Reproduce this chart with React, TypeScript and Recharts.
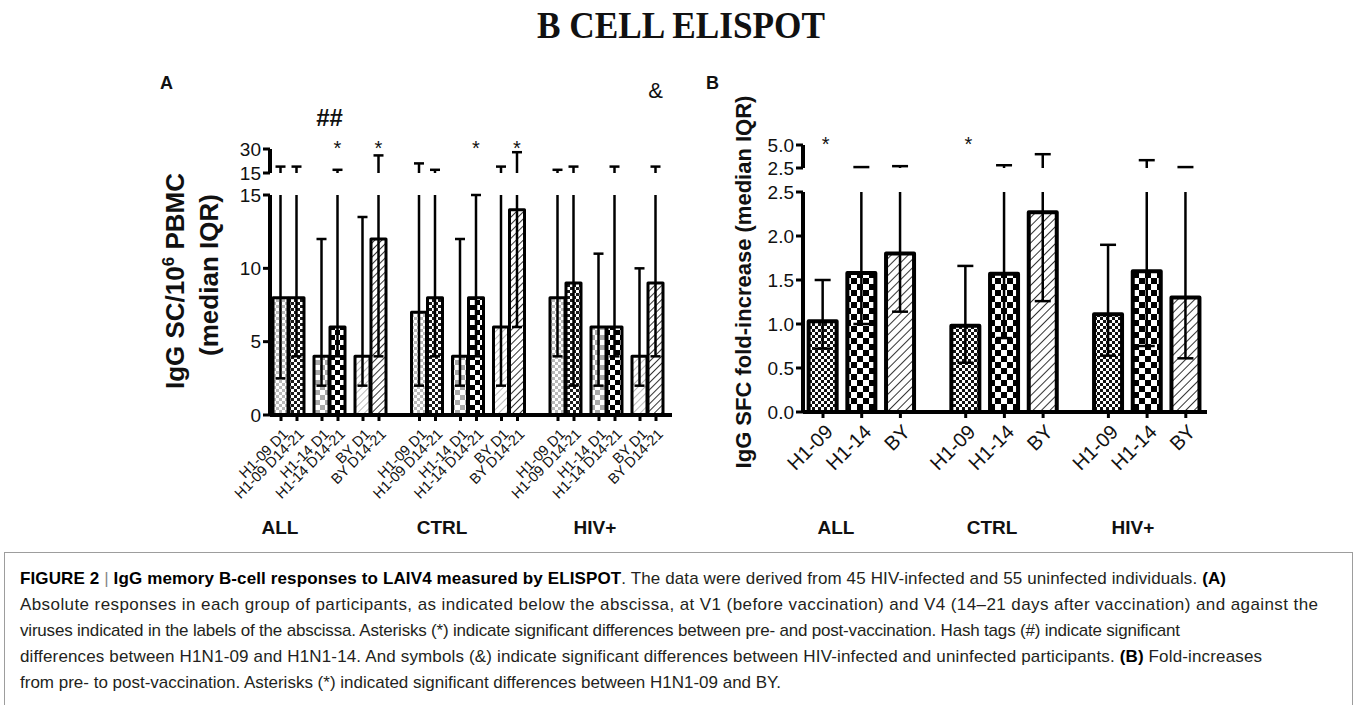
import React from 'react';
import { BarChart, Bar, XAxis, YAxis, Cell } from 'recharts';

const groups = ['ALL', 'CTRL', 'HIV+'];
const viruses = ['H1-09', 'H1-14', 'BY'];
const visits = ['D1', 'D14-21'];

// Panel A: IgG SC / 10^6 PBMC, ordered group > virus > visit
const absMedian = [8, 8, 4, 6, 4, 12, 7, 8, 4, 8, 6, 14, 8, 9, 6, 6, 4, 9];
const absQ1 = [2.5, 4, 2, 4, 2, 4, 2, 4, 2, 4, 2, 6, 4, 2, 2, 4, 2, 4];
const absQ3 = [19, 19, 12, 17, 13.5, 26, 21, 17, 12, 15, 19, 28, 17, 19, 11, 19, 10, 19];
const absMarks = ['', '', '', '*', '', '*', '', '', '', '*', '', '*', '', '', '', '', '', '&'];
const absPairMarks = ['', '##', '', '', '', '', '', '', '']; // group > virus
const absTicks = [0, 5, 10, 15];
const absTopTicks = [15, 30];

// Panel B: fold increase, ordered group > virus
const foldMedian = [1.03, 1.58, 1.8, 0.98, 1.57, 2.27, 1.11, 1.6, 1.3];
const foldQ1 = [0.72, 1.0, 1.14, 0.56, 0.84, 1.26, 0.64, 0.75, 0.61];
const foldQ3 = [1.5, 2.6, 2.7, 1.66, 2.8, 4.0, 1.9, 3.35, 2.6];
const foldMarks = ['*', '', '', '*', '', '', '', '', ''];
const foldTicks = [0, 0.5, 1, 1.5, 2, 2.5];
const foldTopTicks = [2.5, 5];

const SANS = '"Liberation Sans", Arial, Helvetica, sans-serif';
const SERIF = '"Liberation Serif", "Times New Roman", serif';

// layout (px)
const LA = { left: 270, width: 402, lowTop: 195, lowH: 220, upTop: 149, upH: 24, first: 11, bar: 16, pair: 41, group: 138.5, barW: 15, cap: 5 };
const LB = { left: 803, width: 404, lowTop: 192, lowH: 220, upTop: 145, upH: 23, first: 20, pair: 38.7, group: 142.7, barW: 28, cap: 8 };
const CHART_TOP = 70;

const patA = [
  ['aFineGray', 'aFineBlack'],
  ['aBigGray', 'aBigBlack'],
  ['aHatchGray', 'aHatchBlack'],
];
const patB = ['bFine', 'bBig', 'bHatch'];

const absBreak = absTicks[absTicks.length - 1];
const absTop = absTopTicks[absTopTicks.length - 1];
const rowsA = absMedian.map((m, i) => {
  const g = Math.floor(i / 6);
  const v = Math.floor((i % 6) / 2);
  const d = i % 2;
  const q1 = absQ1[i];
  const q3 = absQ3[i];
  const pairMark = d === 1 ? absPairMarks[g * 3 + v] : '';
  return {
    pos: LA.first + g * LA.group + v * LA.pair + d * LA.bar,
    label: `${viruses[v]} ${visits[d]}`,
    pattern: patA[v][d],
    median: m,
    low: [q1, Math.min(q3, absBreak)],
    lowCap: q3 <= absBreak,
    high: q3 > absBreak ? [absBreak, q3] : null,
    mark: absMarks[i],
    pairMark,
    anchor: absMarks[i] || pairMark ? absTop : null,
  };
});

const foldBreak = foldTicks[foldTicks.length - 1];
const foldTop = foldTopTicks[foldTopTicks.length - 1];
const rowsB = foldMedian.map((m, i) => {
  const g = Math.floor(i / 3);
  const v = i % 3;
  const q1 = foldQ1[i];
  const q3 = foldQ3[i];
  return {
    pos: LB.first + g * LB.group + v * LB.pair,
    label: viruses[v],
    pattern: patB[v],
    median: m,
    low: [q1, Math.min(q3, foldBreak)],
    lowCap: q3 <= foldBreak,
    high: q3 > foldBreak ? [foldBreak, q3] : null,
    mark: foldMarks[i],
    pairMark: '',
    anchor: foldMarks[i] ? foldTop : null,
  };
});

const axisLine = { stroke: '#000', strokeWidth: 4 };
const tickLine = { stroke: '#000', strokeWidth: 3 };

const whisker = (cap: number, key: 'low' | 'high') => (p: any) => {
  const { x, y, width, height, payload } = p;
  if (!payload || payload[key] == null || x == null || y == null) return <g />;
  const cx = x + width / 2;
  const top = Math.min(y, y + height);
  const bottom = Math.max(y, y + height);
  const showTop = key === 'high' || payload.lowCap;
  const showBottom = key === 'low';
  return (
    <g stroke="#000" strokeWidth={2.5}>
      <line x1={cx} x2={cx} y1={top} y2={bottom} />
      {showTop && <line x1={cx - cap} x2={cx + cap} y1={top} y2={top} />}
      {showBottom && <line x1={cx - cap} x2={cx + cap} y1={bottom} y2={bottom} />}
    </g>
  );
};

const markStyle: Record<string, { size: number; weight: number; rise: number }> = {
  '*': { size: 20, weight: 400, rise: -5.5 },
  '##': { size: 24, weight: 700, rise: 23 },
  '&': { size: 22, weight: 400, rise: 51 },
};

const marks = (halfStep: number, dx: number) => (p: any) => {
  const { x, y, width, height, payload } = p;
  if (!payload || payload.anchor == null || x == null) return <g />;
  const cx = x + width / 2;
  const top = Math.min(y, y + height);
  const out: React.ReactNode[] = [];
  [payload.mark, payload.pairMark].forEach((m: string, k: number) => {
    if (!m) return;
    const s = markStyle[m];
    out.push(
      <text key={k} x={cx + dx - (k === 1 ? halfStep : 0)} y={top - s.rise} textAnchor="middle"
        fontFamily={SANS} fontSize={s.size} fontWeight={s.weight} fill="#111">{m}</text>
    );
  });
  return <g>{out}</g>;
};

const angledTick = (labels: Map<number, string>, size: number, dx: number, dy: number) => (p: any) => {
  const { x, y, payload } = p;
  const ax = x + dx;
  const ay = y + dy;
  return (
    <text x={ax} y={ay} transform={`rotate(-45, ${ax}, ${ay})`} textAnchor="end"
      fontFamily={SANS} fontSize={size} fill="#111">{labels.get(payload.value)}</text>
  );
};

const labelsA = new Map(rowsA.map((r) => [r.pos, r.label]));
const labelsB = new Map(rowsB.map((r) => [r.pos, r.label]));

function Panel({ L, rows, lowTicks, topTicks, labels, tickSize, tickDx, tickDy, fmt, strokeW, markDx, xAxisH }: any) {
  const yw = 60;
  const w = L.width + yw + 10;
  const ticks = rows.map((r: any) => r.pos);
  const dom = [0, L.width];
  const lowDom = [lowTicks[0], lowTicks[lowTicks.length - 1]];
  const upDom = [topTicks[0], topTicks[topTicks.length - 1]];
  const yTick = { fill: '#111', fontSize: 19, fontFamily: SANS };
  const upMargin = L.upTop - CHART_TOP;
  return (
    <>
      <div style={{ position: 'absolute', left: L.left - yw, top: CHART_TOP }}>
        <BarChart width={w} height={upMargin + L.upH + 14} data={rows} margin={{ top: upMargin, right: 10, left: 0, bottom: 14 }}>
          <XAxis xAxisId="w" type="number" dataKey="pos" domain={dom} ticks={ticks} hide />
          <XAxis xAxisId="s" type="number" dataKey="pos" domain={dom} ticks={ticks} hide />
          <YAxis type="number" domain={upDom} ticks={topTicks} interval={0} width={yw}
            axisLine={axisLine} tickLine={tickLine} tickSize={7} tickMargin={2} tick={yTick} tickFormatter={fmt} />
          <Bar xAxisId="w" dataKey="high" barSize={L.barW} shape={whisker(L.cap, 'high')} isAnimationActive={false} />
          <Bar xAxisId="s" dataKey="anchor" barSize={L.barW} shape={marks(L.bar ? L.bar / 2 : 0, markDx)} isAnimationActive={false} />
        </BarChart>
      </div>
      <div style={{ position: 'absolute', left: L.left - yw, top: L.lowTop - 10 }}>
        <BarChart width={w} height={10 + L.lowH + xAxisH} data={rows} margin={{ top: 10, right: 10, left: 0, bottom: 0 }}>
          <XAxis xAxisId="m" type="number" dataKey="pos" domain={dom} ticks={ticks} interval={0}
            height={xAxisH} axisLine={axisLine} tickLine={tickLine} tickSize={6}
            tick={angledTick(labels, tickSize, tickDx, tickDy)} />
          <XAxis xAxisId="w" type="number" dataKey="pos" domain={dom} ticks={ticks} hide />
          <YAxis type="number" domain={lowDom} ticks={lowTicks} interval={0} width={yw}
            axisLine={axisLine} tickLine={tickLine} tickSize={7} tickMargin={2} tick={yTick} tickFormatter={fmt} />
          <Bar xAxisId="m" dataKey="median" barSize={L.barW} stroke="#000" strokeWidth={strokeW} strokeLinejoin="round" isAnimationActive={false}>
            {rows.map((r: any) => <Cell key={r.pos} fill={`url(#${r.pattern})`} />)}
          </Bar>
          <Bar xAxisId="w" dataKey="low" barSize={L.barW} shape={whisker(L.cap, 'low')} isAnimationActive={false} />
        </BarChart>
      </div>
    </>
  );
}

function Patterns() {
  const check = (id: string, s: number, c: string) => (
    <pattern id={id} width={2 * s} height={2 * s} patternUnits="userSpaceOnUse">
      <rect width={2 * s} height={2 * s} fill="#fff" />
      <rect width={s} height={s} fill={c} />
      <rect x={s} y={s} width={s} height={s} fill={c} />
    </pattern>
  );
  const hatch = (id: string, gap: number, c: string, w: number) => (
    <pattern id={id} width={gap} height={gap} patternUnits="userSpaceOnUse" patternTransform="rotate(45)">
      <rect width={gap} height={gap} fill="#fff" />
      <line x1={0} y1={0} x2={0} y2={gap} stroke={c} strokeWidth={w} />
    </pattern>
  );
  return (
    <svg width={0} height={0} style={{ position: 'absolute', left: 0, top: 0 }}>
      <defs>
        {check('aFineGray', 3, '#b9b9b9')}
        {check('aFineBlack', 3, '#1a1a1a')}
        {check('aBigGray', 5, '#a9a9a9')}
        {check('aBigBlack', 5, '#000')}
        {hatch('aHatchGray', 5, '#9a9a9a', 1.4)}
        {hatch('aHatchBlack', 5, '#000', 1.6)}
        {check('bFine', 3, '#111')}
        {check('bBig', 6, '#000')}
        {hatch('bHatch', 6, '#000', 1.6)}
      </defs>
    </svg>
  );
}

const caption: [string, boolean][][] = [
  [['FIGURE 2', true], [' | ', false], ['IgG memory B-cell responses to LAIV4 measured by ELISPOT', true],
    ['. The data were derived from 45 HIV-infected and 55 uninfected individuals. ', false], ['(A)', true]],
  [['Absolute responses in each group of participants, as indicated below the abscissa, at V1 (before vaccination) and V4 (14\u201321 days after vaccination) and against the', false]],
  [['viruses indicated in the labels of the abscissa. Asterisks (*) indicate significant differences between pre- and post-vaccination. Hash tags (#) indicate significant', false]],
  [['differences between H1N1-09 and H1N1-14. And symbols (&) indicate significant differences between HIV-infected and uninfected participants. ', false], ['(B)', true], [' Fold-increases', false]],
  [['from pre- to post-vaccination. Asterisks (*) indicated significant differences between H1N1-09 and BY.', false]],
];
const captionWidths: (number | undefined)[] = [1206, 1298, 1160, 1242, undefined];

function Overlay() {
  const groupX = [[280, 442, 595], [836, 992, 1133]];
  return (
    <svg width={1358} height={705} style={{ position: 'absolute', left: 0, top: 0, pointerEvents: 'none' }}>
      <text x={681} y={38} textAnchor="middle" fontFamily={SERIF} fontWeight={700} fontSize={38}
        textLength={288} lengthAdjust="spacingAndGlyphs" fill="#111">B CELL ELISPOT</text>
      <text x={160} y={89} fontFamily={SANS} fontWeight={700} fontSize={18} fill="#111">A</text>
      <text x={706} y={89} fontFamily={SANS} fontWeight={700} fontSize={18} fill="#111">B</text>
      <text x={184} y={281} transform="rotate(-90, 184, 281)" textAnchor="middle" fontFamily={SANS}
        fontWeight={700} fontSize={26} fill="#111">
        IgG SC/10<tspan dy={-10} fontSize={17}>6</tspan><tspan dy={10}> PBMC</tspan>
      </text>
      <text x={218} y={275} transform="rotate(-90, 218, 275)" textAnchor="middle" fontFamily={SANS}
        fontWeight={700} fontSize={26} fill="#111">(median IQR)</text>
      <text x={751} y={282} transform="rotate(-90, 751, 282)" textAnchor="middle" fontFamily={SANS}
        fontWeight={700} fontSize={22} fill="#111">IgG SFC fold-increase (median IQR)</text>
      {groupX.map((xs) => xs.map((x, g) => (
        <text key={`${x}`} x={x} y={534} textAnchor="middle" fontFamily={SANS} fontWeight={700} fontSize={19} fill="#111">{groups[g]}</text>
      )))}
      <rect x={4.5} y={552.5} width={1348} height={170} fill="none" stroke="#9d9d9d" strokeWidth={1} />
      {caption.map((line, i) => (
        <text key={i} x={20} y={584 + i * 26} fontFamily={SANS} fontSize={17} fill="#231f20"
          textLength={captionWidths[i]} lengthAdjust={captionWidths[i] ? 'spacing' : undefined}>
          {line.map(([t, b], k) => (
            <tspan key={k} fontWeight={b ? 700 : 400} fill={t === ' | ' ? '#888' : b ? '#000' : '#231f20'}>{t}</tspan>
          ))}
        </text>
      ))}
    </svg>
  );
}

export default function App() {
  return (
    <div style={{ position: 'absolute', left: 0, top: 0, width: 1358, height: 705, overflow: 'hidden', background: '#fff', fontFamily: SANS }}>
      <Patterns />
      <Panel L={LA} rows={rowsA} lowTicks={absTicks} topTicks={absTopTicks} labels={labelsA} tickSize={14.5}
        tickDx={8} tickDy={12} fmt={(v: number) => `${v}`} strokeW={3} markDx={0} xAxisH={100} />
      <Panel L={LB} rows={rowsB} lowTicks={foldTicks} topTicks={foldTopTicks} labels={labelsB} tickSize={20}
        tickDx={11} tickDy={13} fmt={(v: number) => v.toFixed(1)} strokeW={4} markDx={3} xAxisH={90} />
      <Overlay />
    </div>
  );
}
